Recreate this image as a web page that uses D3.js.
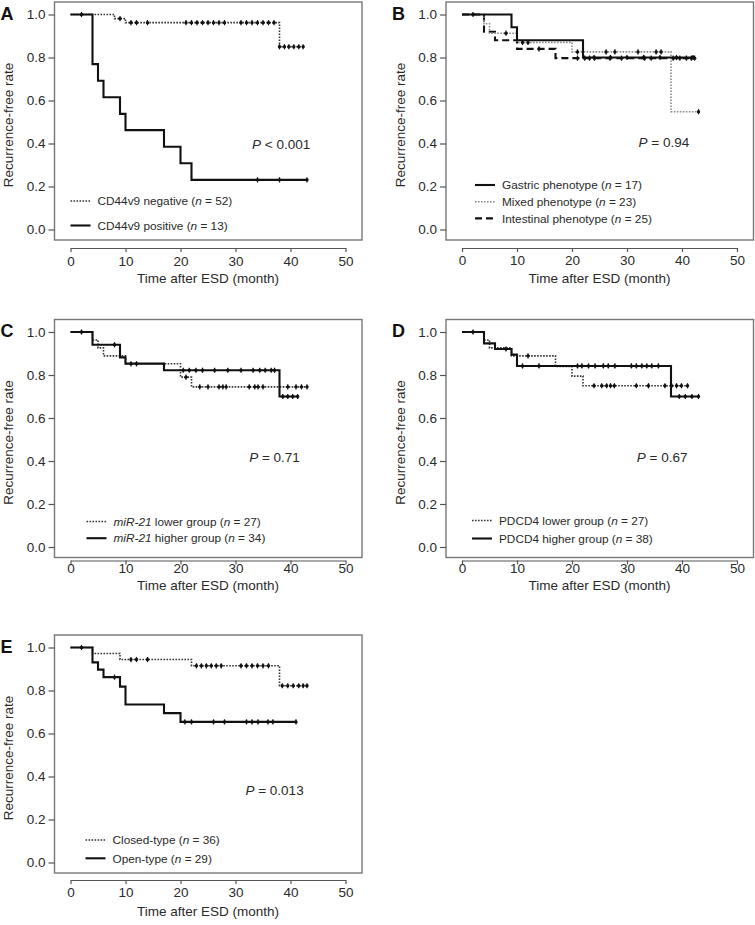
<!DOCTYPE html>
<html>
<head>
<meta charset="utf-8">
<script src="https://cdn.jsdelivr.net/npm/d3@7"></script>
<style>
  body { margin: 0; background: #fff; }
  svg { display: block; font-family: "Liberation Sans", Arial, sans-serif; }
</style>
</head>
<body>
<svg id="chart" width="755" height="925"></svg>
<script>
// shared axis values
const xTicks = [0, 10, 20, 30, 40, 50];
const yTicks = [0, 0.2, 0.4, 0.6, 0.8, 1.0];

// A: CD44v9
const aNegSteps = [[0, 1], [8, 0.981], [10, 0.962], [38, 0.85]];
const aNegEnd = 42.3;
const aNegCensor = [2, 9, 11, 12, 14, 21, 22, 23, 24, 25, 26, 27, 28, 31, 32, 33, 34, 35, 36, 37, 38, 38.9, 39.7, 40.6, 41.5, 42.3];
const aPosSteps = [[0, 1], [4, 0.769], [5, 0.692], [6, 0.615], [9, 0.538], [10, 0.462], [17, 0.385], [20, 0.308], [22, 0.231]];
const aPosEnd = 43;
const aPosCensor = [34, 38, 43];

// B: phenotype
const bGasSteps = [[0, 1], [9, 0.941], [10, 0.88], [22, 0.80]];
const bGasEnd = 42;
const bGasCensor = [2, 24, 27, 30, 33, 36, 39, 42];
const bMixSteps = [[0, 1], [4, 0.957], [5, 0.913], [10, 0.87], [20, 0.826], [38, 0.548]];
const bMixEnd = 43;
const bMixCensor = [8, 11, 12, 21, 26.2, 27.8, 32, 35.3, 36.2, 43];
const bIntSteps = [[0, 1], [4, 0.92], [6, 0.88], [10, 0.84], [17, 0.797]];
const bIntEnd = 42.3;
const bIntCensor = [14, 21, 22.3, 23.2, 24.1, 26.9, 29, 33.2, 34.4, 38.4, 39.6, 40.8, 41.7, 42.3];

// C: miR-21
const cLowSteps = [[0, 1], [4, 0.963], [5, 0.926], [6, 0.889], [10, 0.852], [20, 0.79], [22, 0.745]];
const cLowEnd = 43;
const cLowCensor = [11, 12, 21, 23.5, 25, 27, 27.7, 28.3, 32.5, 33.5, 34.1, 35, 39.5, 41, 42, 43];
const cHighSteps = [[0, 1], [4, 0.941], [9, 0.882], [10, 0.853], [17, 0.822], [38, 0.70]];
const cHighEnd = 41.3;
const cHighCensor = [2, 8, 20.5, 21.6, 22.8, 24, 26.2, 28.6, 31, 33.2, 34.4, 35.4, 36.5, 37.1, 38.6, 39.5, 40.4, 41.3];

// D: PDCD4
const dLowSteps = [[0, 1], [4, 0.963], [5, 0.926], [9, 0.889], [17, 0.84], [20, 0.795], [22, 0.75]];
const dLowEnd = 41;
const dLowCensor = [12, 24, 25.4, 26.3, 27, 27.7, 31.7, 33.9, 36.9, 38.1, 39, 39.9, 41];
const dHighSteps = [[0, 1], [4, 0.947], [6, 0.921], [9, 0.895], [10, 0.842], [38, 0.70]];
const dHighEnd = 43;
const dHighCensor = [2, 8, 11, 14, 21, 21.8, 23, 24.2, 25.7, 26.6, 27.8, 30.8, 31.7, 32.7, 33.6, 34.5, 35.7, 39.5, 40.6, 41.8, 43];

// E: macroscopic type
const eClosedSteps = [[0, 1], [4, 0.972], [9, 0.944], [22, 0.915], [38, 0.822]];
const eClosedEnd = 43;
const eClosedCensor = [11, 12, 14, 22.9, 23.8, 24.7, 25.6, 26.5, 27.4, 31, 32, 33, 34, 35, 36, 38.5, 39.5, 40.5, 41.5, 42.3, 43];
const eOpenSteps = [[0, 1], [4, 0.931], [5, 0.897], [6, 0.862], [9, 0.818], [10, 0.735], [17, 0.695], [20, 0.654]];
const eOpenEnd = 41;
const eOpenCensor = [2, 8, 20.8, 22, 26, 28, 32, 33, 34.1, 35.9, 36.8, 41];

const solid = { stroke: '#111', width: 2.1, dash: null };
const dotted = { stroke: '#333', width: 1.6, dash: '1.6,1.4' };
const dottedGrey = { stroke: '#8a8a8a', width: 1.6, dash: '1.6,1.4' };
const dashed = { stroke: '#111', width: 2.1, dash: '7,4' };

const panels = [
  { letter: 'A', left: 54.5, top: 2, axisGap: 8, labelGap: 24, titleGap: 42.5,
    series: [
      { steps: aNegSteps, end: aNegEnd, censor: aNegCensor, style: dotted },
      { steps: aPosSteps, end: aPosEnd, censor: aPosCensor, style: solid }
    ],
    legend: { x: 16, y: 199, gap: 24.5, items: [
      { style: dotted, parts: [['CD44v9 negative (', 0], ['n', 1], [' = 52)', 0]] },
      { style: solid, parts: [['CD44v9 positive (', 0], ['n', 1], [' = 13)', 0]] }
    ] },
    pval: { t: 38.3, v: 0.4, text: ' < 0.001' } },
  { letter: 'B', left: 446, top: 2, axisGap: 8, labelGap: 23, titleGap: 42.5,
    series: [
      { steps: bIntSteps, end: bIntEnd, censor: bIntCensor, style: dashed },
      { steps: bMixSteps, end: bMixEnd, censor: bMixCensor, style: dottedGrey },
      { steps: bGasSteps, end: bGasEnd, censor: bGasCensor, style: solid }
    ],
    legend: { x: 29, y: 183, gap: 16.7, items: [
      { style: solid, parts: [['Gastric phenotype (', 0], ['n', 1], [' = 17)', 0]] },
      { style: dottedGrey, parts: [['Mixed phenotype (', 0], ['n', 1], [' = 23)', 0]] },
      { style: dashed, parts: [['Intestinal phenotype (', 0], ['n', 1], [' = 25)', 0]] }
    ] },
    pval: { t: 36.7, v: 0.407, text: ' = 0.94' } },
  { letter: 'C', left: 54.5, top: 319.5, axisGap: 3, labelGap: 14, titleGap: 32,
    series: [
      { steps: cLowSteps, end: cLowEnd, censor: cLowCensor, style: dotted },
      { steps: cHighSteps, end: cHighEnd, censor: cHighCensor, style: solid }
    ],
    legend: { x: 32, y: 202, gap: 16.7, items: [
      { style: dotted, parts: [['miR-21', 1], [' lower group (', 0], ['n', 1], [' = 27)', 0]] },
      { style: solid, parts: [['miR-21', 1], [' higher group (', 0], ['n', 1], [' = 34)', 0]] }
    ] },
    pval: { t: 37.1, v: 0.42, text: ' = 0.71' } },
  { letter: 'D', left: 446, top: 319.5, axisGap: 3, labelGap: 14, titleGap: 32,
    series: [
      { steps: dLowSteps, end: dLowEnd, censor: dLowCensor, style: dotted },
      { steps: dHighSteps, end: dHighEnd, censor: dHighCensor, style: solid }
    ],
    legend: { x: 26, y: 201, gap: 18, items: [
      { style: dotted, parts: [['PDCD4 lower group (', 0], ['n', 1], [' = 27)', 0]] },
      { style: solid, parts: [['PDCD4 higher group (', 0], ['n', 1], [' = 38)', 0]] }
    ] },
    pval: { t: 36.4, v: 0.417, text: ' = 0.67' } },
  { letter: 'E', left: 54.5, top: 635, axisGap: 7, labelGap: 22, titleGap: 43,
    series: [
      { steps: eClosedSteps, end: eClosedEnd, censor: eClosedCensor, style: dotted },
      { steps: eOpenSteps, end: eOpenEnd, censor: eOpenCensor, style: solid }
    ],
    legend: { x: 31, y: 205, gap: 18.3, items: [
      { style: dotted, parts: [['Closed-type (', 0], ['n', 1], [' = 36)', 0]] },
      { style: solid, parts: [['Open-type (', 0], ['n', 1], [' = 29)', 0]] }
    ] },
    pval: { t: 37.1, v: 0.335, text: ' = 0.013' } }
];

const boxW = 307.5, boxH = 238;
const svg = d3.select('#chart');
const ink = '#2a2a2a';

function valueAt(steps, t) {
  let v = steps[0][1];
  steps.forEach(s => { if (s[0] <= t) v = s[1]; });
  return v;
}

panels.forEach(p => {
  const g = svg.append('g').attr('transform', `translate(${p.left},${p.top})`);
  const x = d3.scaleLinear().domain([0, 50]).range([16, 291]);
  const y = d3.scaleLinear().domain([0, 1]).range([227.5, 12.5]);

  // box
  g.append('rect')
    .attr('x', 0).attr('y', 0).attr('width', boxW).attr('height', boxH)
    .attr('fill', 'none').attr('stroke', '#777').attr('stroke-width', 1.4);

  // x axis, detached below the box
  const xa = g.append('g').attr('transform', `translate(0,${boxH + p.axisGap})`)
    .call(d3.axisBottom(x).tickValues(xTicks).tickSize(4).tickPadding(p.labelGap - p.axisGap - 12).tickSizeOuter(0));
  xa.select('.domain').attr('stroke', '#555').attr('stroke-width', 1.2);
  xa.selectAll('.tick line').attr('stroke', '#555').attr('stroke-width', 1.2);
  xa.selectAll('text').attr('font-size', 13.5).attr('fill', ink).attr('font-family', null);

  // y axis, ticks out from the box
  const ya = g.append('g')
    .call(d3.axisLeft(y).tickValues(yTicks).tickFormat(d3.format('.1f')).tickSize(6).tickPadding(3).tickSizeOuter(0));
  ya.select('.domain').remove();
  ya.selectAll('.tick line').attr('stroke', '#555').attr('stroke-width', 1.2);
  ya.selectAll('text').attr('font-size', 13.5).attr('fill', ink).attr('font-family', null);

  // titles
  g.append('text').attr('x', x(25)).attr('y', boxH + p.titleGap)
    .attr('text-anchor', 'middle').attr('font-size', 13.5).attr('fill', ink)
    .text('Time after ESD (month)');
  g.append('text')
    .attr('transform', `translate(-46,${(y(0) + y(1)) / 2 + 3}) rotate(-90)`)
    .attr('text-anchor', 'middle').attr('dominant-baseline', 'central')
    .attr('font-size', 13.5).attr('fill', ink)
    .text('Recurrence-free rate');
  g.append('text').attr('x', -54).attr('y', y(1) + 5)
    .attr('font-size', 18).attr('font-weight', 'bold').attr('fill', '#111')
    .text(p.letter);

  // survival curves
  const line = d3.line().x(d => x(d[0])).y(d => y(d[1])).curve(d3.curveStepAfter);
  p.series.forEach(s => {
    const pts = s.steps.concat([[s.end, s.steps[s.steps.length - 1][1]]]);
    g.append('path').datum(pts)
      .attr('d', line).attr('fill', 'none')
      .attr('stroke', s.style.stroke).attr('stroke-width', s.style.width)
      .attr('stroke-dasharray', s.style.dash);
    const marks = g.append('g');
    marks.selectAll('line').data(s.censor).join('line')
      .attr('x1', d => x(d)).attr('x2', d => x(d))
      .attr('y1', d => y(valueAt(s.steps, d)) - 2.6)
      .attr('y2', d => y(valueAt(s.steps, d)) + 2.6)
      .attr('stroke', '#111').attr('stroke-width', 1.2);
    marks.selectAll('circle').data(s.censor).join('circle')
      .attr('cx', d => x(d)).attr('cy', d => y(valueAt(s.steps, d)))
      .attr('r', 1.7).attr('fill', '#111');
  });

  // legend
  const lg = g.append('g').attr('transform', `translate(${p.legend.x},${p.legend.y})`);
  p.legend.items.forEach((it, i) => {
    const yy = i * p.legend.gap;
    lg.append('line').attr('x1', 0).attr('x2', 20).attr('y1', yy).attr('y2', yy)
      .attr('stroke', it.style.stroke).attr('stroke-width', it.style.width)
      .attr('stroke-dasharray', it.style.dash);
    const t = lg.append('text').attr('x', 27).attr('y', yy + 4.2)
      .attr('font-size', 11.8).attr('fill', ink);
    it.parts.forEach(pt => {
      t.append('tspan').attr('font-style', pt[1] ? 'italic' : null).text(pt[0]);
    });
  });

  // p value
  const pt = g.append('text').attr('x', x(p.pval.t)).attr('y', y(p.pval.v) + 5)
    .attr('text-anchor', 'middle').attr('font-size', 13.5).attr('fill', ink);
  pt.append('tspan').attr('font-style', 'italic').text('P');
  pt.append('tspan').text(p.pval.text);
});
</script>
</body>
</html>
